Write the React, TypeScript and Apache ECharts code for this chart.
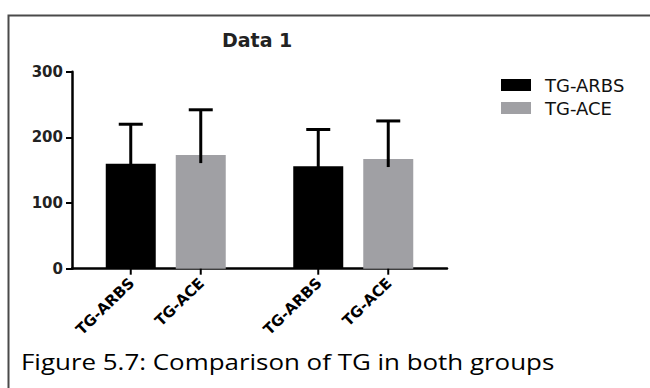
import React, { useEffect, useRef } from "react";
import * as echarts from "echarts";

const groups = ["Group 1", "Group 2"];
const seriesNames = ["TG-ARBS", "TG-ACE"];
const arbsMean = [160, 156];
const arbsSD = [60, 56];
const aceMean = [173, 167];
const aceSD = [69, 58];
const yTicks = { min: 0, max: 300, interval: 100 };
const titleText = "Data 1";
const captionText = "Figure 5.7: Comparison of TG in both groups";

const BAR_W = 50;
const BAR_OFFSET = 35;
const LABEL_FONT = "DejaVu Sans";

function makeErrorSeries(name: string, means: number[], sds: number[], offset: number) {
  return {
    type: "custom",
    name: name + " SD",
    silent: true,
    clip: false,
    z: 3,
    encode: { x: 0, y: 1 },
    data: means.map((m, i) => [i, m, sds[i]]),
    renderItem: (params: any, api: any) => {
      const i = api.value(0);
      const m = api.value(1);
      const sd = api.value(2);
      const base = api.coord([i, m]);
      const topPt = api.coord([i, m + sd]);
      const zero = api.coord([i, 0]);
      const cx = base[0] + offset;
      return {
        type: "group",
        children: [
          {
            type: "line",
            shape: { x1: cx, y1: base[1] + 8, x2: cx, y2: topPt[1] },
            style: { stroke: "#000", lineWidth: 3 },
          },
          {
            type: "line",
            shape: { x1: cx - 12, y1: topPt[1], x2: cx + 12, y2: topPt[1] },
            style: { stroke: "#000", lineWidth: 3 },
          },
          {
            type: "line",
            shape: { x1: cx, y1: zero[1], x2: cx, y2: zero[1] + 6 },
            style: { stroke: "#000", lineWidth: 2 },
          },
          {
            type: "text",
            x: cx + 1,
            y: zero[1] + 12,
            rotation: (44 * Math.PI) / 180,
            style: {
              text: name,
              x: 0,
              y: 0,
              align: "right",
              verticalAlign: "middle",
              font: `bold 15px "${LABEL_FONT}"`,
              fill: "#000",
            },
          },
        ],
      };
    },
  };
}

export default function App() {
  const ref = useRef<HTMLDivElement>(null);
  useEffect(() => {
    if (!ref.current) return;
    const chart = echarts.init(ref.current, null, { renderer: "svg" });
    chart.setOption({
      animation: false,
      backgroundColor: "#fff",
      title: {
        text: titleText,
        left: 222,
        top: 30,
        padding: 0,
        textStyle: { fontFamily: LABEL_FONT, fontWeight: "bold", fontSize: 19, color: "#222" },
      },
      legend: {
        data: seriesNames,
        orient: "vertical",
        left: 501,
        top: 76,
        padding: 0,
        itemWidth: 30,
        itemHeight: 12,
        itemGap: 5,
        icon: "rect",
        textStyle: {
          fontFamily: LABEL_FONT,
          fontSize: 18,
          color: "#111",
          lineHeight: 18,
          padding: [0, 0, 0, 9],
        },
      },
      grid: { left: 72, right: 203, top: 71.7, bottom: 119.3, containLabel: false },
      xAxis: {
        type: "category",
        data: groups,
        axisLine: { show: true, lineStyle: { color: "#000", width: 2.5 } },
        axisTick: { show: false },
        axisLabel: { show: false },
        splitLine: { show: false },
      },
      yAxis: {
        type: "value",
        min: yTicks.min,
        max: yTicks.max,
        interval: yTicks.interval,
        axisLine: { show: true, lineStyle: { color: "#000", width: 2.5 } },
        axisTick: { show: true, length: 6, lineStyle: { color: "#000", width: 2 } },
        axisLabel: {
          fontFamily: LABEL_FONT,
          fontWeight: "bold",
          fontSize: 15,
          color: "#222",
          margin: 9,
        },
        splitLine: { show: false },
      },
      series: [
        {
          type: "bar",
          name: seriesNames[0],
          data: arbsMean,
          barWidth: BAR_W,
          barGap: "40%",
          itemStyle: { color: "#000" },
          z: 2,
        },
        {
          type: "bar",
          name: seriesNames[1],
          data: aceMean,
          barWidth: BAR_W,
          barGap: "40%",
          itemStyle: { color: "#a0a0a4" },
          z: 2,
        },
        makeErrorSeries(seriesNames[0], arbsMean, arbsSD, -BAR_OFFSET),
        makeErrorSeries(seriesNames[1], aceMean, aceSD, BAR_OFFSET),
      ],
      graphic: [
        {
          type: "rect",
          left: 6,
          top: 13,
          shape: { width: 700, height: 420 },
          style: { fill: "none", stroke: "#4a4a4a", lineWidth: 2 },
          z: 100,
        },
        {
          type: "text",
          x: 21,
          y: 351,
          scaleX: 1.235,
          style: {
            text: captionText,
            font: '21px "Open Sans"',
            fill: "#000",
          },
        },
      ],
    });
    return () => chart.dispose();
  }, []);
  return (
    <div
      ref={ref}
      style={{ position: "fixed", left: 0, top: 0, width: 650, height: 388 }}
    />
  );
}
